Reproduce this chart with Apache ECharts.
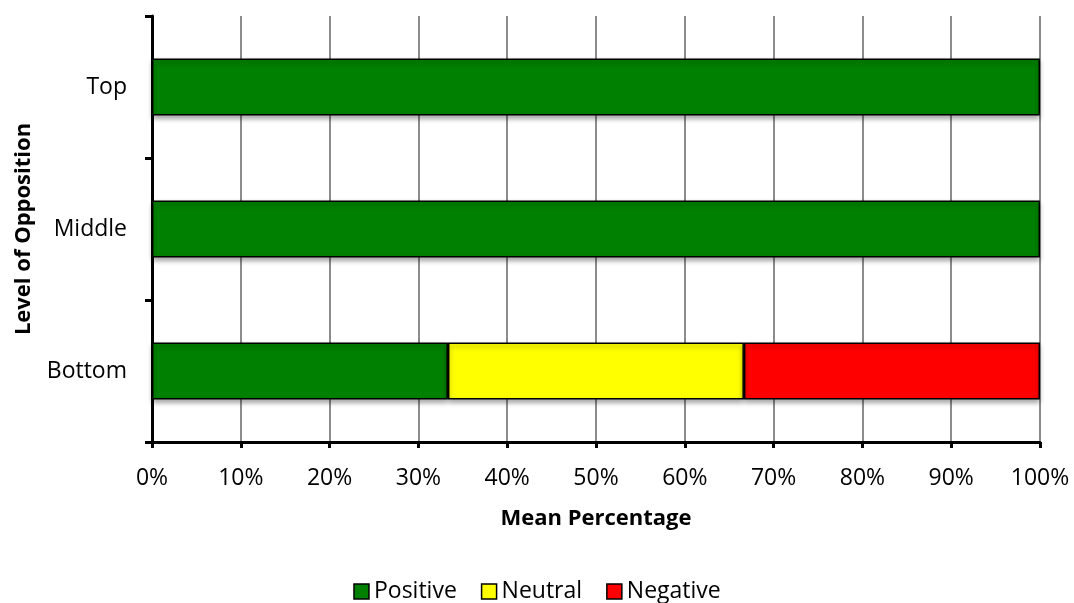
<!DOCTYPE html>
<html>
<head>
<meta charset="utf-8">
<script src="https://cdn.jsdelivr.net/npm/echarts@6/dist/echarts.min.js"></script>
<style>
  html, body { margin: 0; padding: 0; background: #fff; }
  #chart { width: 1074px; height: 603px; }
</style>
</head>
<body>
<div id="chart"></div>
<script>
// Levels of opposition (bottom to top on the category axis)
const categories = ['Bottom', 'Middle', 'Top'];
// Mean percentage of each response type per level
const positive = [33.33, 100, 100];
const neutral  = [33.33, 0, 0];
const negative = [33.34, 0, 0];
const xTicks = [0, 10, 20, 30, 40, 50, 60, 70, 80, 90, 100];

const FONT = '"Open Sans", "Liberation Sans", sans-serif';

// Empty segments are left undrawn so their outline does not thicken the bar end
function barSeries(name, data, color) {
  return {
    name: name,
    type: 'bar',
    stack: 'total',
    data: data.map(v => (v === 0 ? '-' : v)),
    barCategoryGap: '60%',
    itemStyle: {
      color: color,
      borderColor: '#000',
      borderWidth: 1.5,
      shadowColor: 'rgba(0,0,0,0.35)',
      shadowBlur: 5,
      shadowOffsetY: 3
    },
    emphasis: { disabled: true }
  };
}

const chart = echarts.init(document.getElementById('chart'), null, { renderer: 'canvas' });
chart.setOption({
  animation: false,
  textStyle: { fontFamily: FONT },
  grid: { left: 152, right: 34, top: 16, bottom: 161, containLabel: false, outerBoundsMode: 'none' },
  legend: {
    top: 575,
    left: 'center',
    itemWidth: 15,
    itemHeight: 15,
    itemGap: 24,
    icon: 'rect',
    textStyle: { fontSize: 23, color: '#000', fontFamily: FONT },
    itemStyle: { borderColor: '#000', borderWidth: 1.5, shadowBlur: 0, shadowOffsetY: 0 },
    data: ['Positive', 'Neutral', 'Negative']
  },
  xAxis: {
    type: 'value',
    min: xTicks[0],
    max: xTicks[xTicks.length - 1],
    interval: 10,
    name: 'Mean Percentage',
    nameLocation: 'middle',
    nameGap: 66,
    nameTextStyle: { fontSize: 22, fontWeight: 'bold', color: '#000', fontFamily: FONT },
    axisLine: { show: true, lineStyle: { color: '#000', width: 3 } },
    axisTick: { show: true, length: 6, lineStyle: { color: '#000', width: 3 } },
    axisLabel: { fontSize: 23, color: '#000', margin: 25, formatter: '{value}%', fontFamily: FONT },
    splitLine: { show: true, lineStyle: { color: '#8c8c8c', width: 2 } }
  },
  yAxis: {
    type: 'category',
    data: categories,
    name: 'Level of Opposition',
    nameLocation: 'middle',
    nameGap: 117,
    nameRotate: 90,
    nameTextStyle: { fontSize: 22, fontWeight: 'bold', color: '#000', fontFamily: FONT },
    axisLine: { show: true, lineStyle: { color: '#000', width: 3 } },
    axisTick: { show: true, length: 7, lineStyle: { color: '#000', width: 3 } },
    axisLabel: { fontSize: 23, color: '#000', margin: 25, fontFamily: FONT },
    splitLine: { show: false }
  },
  series: [
    barSeries('Positive', positive, '#008000'),
    barSeries('Neutral', neutral, '#ffff00'),
    barSeries('Negative', negative, '#ff0000')
  ]
});
</script>
</body>
</html>
